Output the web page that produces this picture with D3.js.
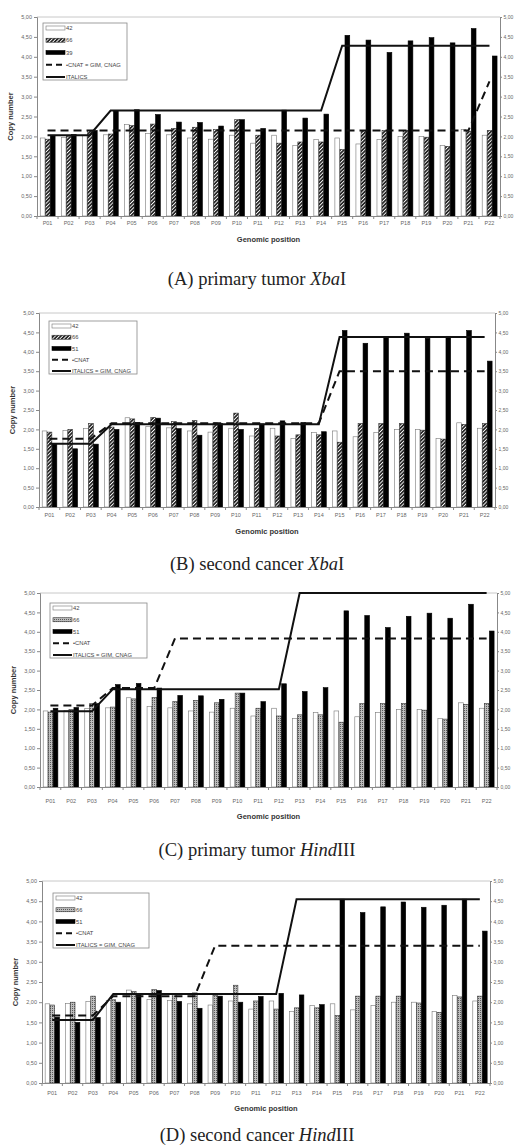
<!DOCTYPE html>
<html><head><meta charset="utf-8">
<script src="https://cdn.jsdelivr.net/npm/d3@7/dist/d3.min.js"></script>
<style>body{margin:0;background:#fff}svg{display:block}</style>
</head><body>
<script>
const categories = ["P01","P02","P03","P04","P05","P06","P07","P08","P09","P10","P11","P12","P13","P14","P15","P16","P17","P18","P19","P20","P21","P22"];
const yTicks = [0,0.5,1,1.5,2,2.5,3,3.5,4,4.5,5];

// series (white "42", patterned "66", black)
const white42 = [1.96,1.97,2.02,2.04,2.30,2.07,2.04,1.96,1.93,2.03,1.83,2.03,1.77,1.92,1.96,1.81,1.92,2.00,2.00,1.77,2.17,2.03];
const pat66   = [1.93,2.00,2.15,2.06,2.27,2.31,2.20,2.23,2.17,2.42,2.03,1.83,1.86,1.86,1.67,2.15,2.15,2.15,1.98,1.75,2.13,2.15];
const blackPrimary = [2.03,2.05,2.15,2.64,2.67,2.55,2.36,2.35,2.26,2.42,2.20,2.66,2.46,2.56,4.54,4.42,4.11,4.40,4.48,4.35,4.71,4.02];
const blackSecond  = [1.63,1.50,1.62,2.00,2.18,2.29,2.02,1.85,2.15,2.00,2.14,2.22,2.18,1.94,4.55,4.22,4.36,4.48,4.35,4.40,4.55,3.76];

// step lines
const solidA  = [2.03,2.03,2.03,2.65,2.65,2.65,2.65,2.65,2.65,2.65,2.65,2.65,2.65,2.65,4.28,4.28,4.28,4.28,4.28,4.28,4.28,4.28];
const dashedA = [2.15,2.15,2.15,2.15,2.15,2.15,2.15,2.15,2.15,2.15,2.15,2.15,2.15,2.15,2.15,2.15,2.15,2.15,2.15,2.15,2.15,3.38];
const solidB  = [1.63,1.63,1.63,2.13,2.13,2.13,2.13,2.13,2.13,2.13,2.13,2.13,2.13,2.13,4.38,4.38,4.38,4.38,4.38,4.38,4.38,4.38];
const dashedB = [1.76,1.76,1.76,2.16,2.16,2.16,2.16,2.16,2.16,2.16,2.16,2.16,2.16,2.16,3.50,3.50,3.50,3.50,3.50,3.50,3.50,3.50];
const solidC  = [1.95,1.95,1.95,2.52,2.52,2.52,2.52,2.52,2.52,2.52,2.52,2.52,5.00,5.00,5.00,5.00,5.00,5.00,5.00,5.00,5.00,5.00];
const dashedC = [2.10,2.10,2.10,2.55,2.55,2.55,3.83,3.83,3.83,3.83,3.83,3.83,3.83,3.83,3.83,3.83,3.83,3.83,3.83,3.83,3.83,3.83];
const solidD  = [1.56,1.56,1.56,2.20,2.20,2.20,2.20,2.20,2.20,2.20,2.20,2.20,4.55,4.55,4.55,4.55,4.55,4.55,4.55,4.55,4.55,4.55];
const dashedD = [1.67,1.67,1.67,2.15,2.15,2.15,2.15,2.15,3.40,3.40,3.40,3.40,3.40,3.40,3.40,3.40,3.40,3.40,3.40,3.40,3.40,3.40];

const legendA = ["42","66","39","•CNAT = GIM, CNAG","ITALICS"];
const legendB = ["42","66","51","•CNAT","ITALICS = GIM, CNAG"];
const legendC = ["42","66","51","•CNAT","ITALICS = GIM, CNAG"];
const legendD = ["42","66","51","•CNAT","ITALICS = GIM, CNAG"];

const captions = [
  ["(A) primary tumor ", "Xba", "I"],
  ["(B) second cancer ", "Xba", "I"],
  ["(C) primary tumor ", "Hind", "III"],
  ["(D) second cancer ", "Hind", "III"]
];

const svg = d3.select("body").append("svg").attr("width",514).attr("height",1148);
const defs = svg.append("defs");
const hp = defs.append("pattern").attr("id","hatch").attr("patternUnits","userSpaceOnUse")
  .attr("width",2.6).attr("height",2.6).attr("patternTransform","rotate(45)");
hp.append("rect").attr("width",2.6).attr("height",2.6).attr("fill","#fff");
hp.append("rect").attr("width",1.7).attr("height",2.6).attr("fill","#222");
const dp = defs.append("pattern").attr("id","dots").attr("patternUnits","userSpaceOnUse")
  .attr("width",2).attr("height",2);
dp.append("rect").attr("width",2).attr("height",2).attr("fill","#bdbdbd");
dp.append("rect").attr("width",1).attr("height",1).attr("fill","#5a5a5a");

const panels = [
  {box:{l:37,r:500,t:17,b:216}, s:[white42,pat66,blackPrimary], solid:solidA, dashed:dashedA, legend:legendA, pat:"hatch",
   leg:{x:43,y:23,w:84,h:57}, xlab:224, xtitle:239, cap:285},
  {box:{l:39,r:495,t:313,b:507}, s:[white42,pat66,blackSecond], solid:solidB, dashed:dashedB, legend:legendB, pat:"hatch",
   leg:{x:49,y:321,w:88,h:53}, xlab:516, xtitle:531, cap:570},
  {box:{l:40,r:497,t:593,b:787}, s:[white42,pat66,blackPrimary], solid:solidC, dashed:dashedC, legend:legendC, pat:"dots",
   leg:{x:50,y:603,w:97,h:55}, xlab:802, xtitle:816, cap:856},
  {box:{l:42,r:490,t:881,b:1083}, s:[white42,pat66,blackSecond], solid:solidD, dashed:dashedD, legend:legendD, pat:"dots",
   leg:{x:53,y:893,w:96,h:55}, xlab:1094, xtitle:1108, cap:1141}
];

const fmt = d => d3.format(".2f")(d).replace(".",",");

panels.forEach((p,pi) => {
  const {l,r,t,b} = p.box;
  const g = svg.append("g");
  const x = d3.scaleBand().domain(categories).range([l,r]);
  const x1 = d3.scaleBand().domain([0,1,2]).range([x.bandwidth()*0.14, x.bandwidth()*0.86]);
  const y = d3.scaleLinear().domain([0,5]).range([b,t]);

  // top border
  g.append("line").attr("x1",l).attr("x2",r).attr("y1",t).attr("y2",t).attr("stroke","#c8c8c8").attr("stroke-width",1);

  const fills = ["#fff", `url(#${p.pat})`, "#000"];
  const strokes = ["#777", "#333", "#000"];
  p.s.forEach((vals,si) => {
    g.append("g").selectAll("rect").data(vals).join("rect")
      .attr("x",(d,i)=>x(categories[i])+x1(si)+0.3)
      .attr("width",x1.bandwidth()-0.3)
      .attr("y",d=>y(d))
      .attr("height",d=>y(0)-y(d))
      .attr("fill",fills[si]).attr("stroke",strokes[si]).attr("stroke-width",0.6);
  });

  const line = d3.line().x((d,i)=>x(categories[i])+x.bandwidth()/2).y(d=>y(d));
  g.append("path").datum(p.dashed).attr("d",line).attr("fill","none").attr("stroke","#111")
    .attr("stroke-width",2).attr("stroke-dasharray","8,5");
  g.append("path").datum(p.solid).attr("d",line).attr("fill","none").attr("stroke","#111")
    .attr("stroke-width",2);

  // axes
  const la = g.append("g").attr("transform",`translate(${l},0)`)
    .call(d3.axisLeft(y).tickValues(yTicks).tickFormat(fmt).tickSize(3).tickPadding(2));
  const ra = g.append("g").attr("transform",`translate(${r},0)`)
    .call(d3.axisRight(y).tickValues(yTicks).tickFormat(fmt).tickSize(2).tickPadding(1.5));
  const ba = g.append("g").attr("transform",`translate(0,${b})`)
    .call(d3.axisBottom(x).tickSize(0).tickPadding(p.xlab-b-3));
  [la,ra,ba].forEach(a => {
    a.selectAll("path.domain").attr("stroke","#888").attr("stroke-width",1);
    a.selectAll(".tick line").attr("stroke","#888");
    a.selectAll("text").attr("fill","#666").style("font-family","Liberation Sans, Arial, sans-serif").style("font-size","5.5px");
  });
  ra.selectAll("text").style("font-size","5px");
  // category boundary ticks
  g.append("g").selectAll("line").data(categories.concat(["end"])).join("line")
    .attr("x1",(d,i)=> i<categories.length ? x(d) : r).attr("x2",(d,i)=> i<categories.length ? x(d) : r)
    .attr("y1",b).attr("y2",b+3).attr("stroke","#888");

  // titles
  g.append("text").attr("transform",`translate(${l-24},${(t+b)/2}) rotate(-90)`)
    .attr("text-anchor","middle").style("font-family","Liberation Sans, Arial, sans-serif")
    .style("font-size","7.5px").style("font-weight","bold").attr("fill","#333").text("Copy number");
  g.append("text").attr("x",(l+r)/2).attr("y",p.xtitle+3).attr("text-anchor","middle")
    .style("font-family","Liberation Sans, Arial, sans-serif").style("font-size","7.5px")
    .style("font-weight","bold").attr("fill","#333").text("Genomic position");

  // legend
  const lg = g.append("g").attr("transform",`translate(${p.leg.x},${p.leg.y})`);
  lg.append("rect").attr("width",p.leg.w).attr("height",p.leg.h).attr("fill","#fff").attr("stroke","#888").attr("stroke-width",0.8);
  const rowH = (p.leg.h-8)/4;
  p.legend.forEach((txt,k) => {
    const cy = 5 + k*rowH;
    const sw = lg.append("g");
    if (k<3) {
      sw.append("rect").attr("x",3).attr("y",cy-2).attr("width",19).attr("height",4)
        .attr("fill",fills[k]).attr("stroke",strokes[k]).attr("stroke-width",0.6);
    } else if (k===3) {
      sw.append("line").attr("x1",3).attr("x2",22).attr("y1",cy).attr("y2",cy).attr("stroke","#111")
        .attr("stroke-width",2).attr("stroke-dasharray","6,4");
    } else {
      sw.append("line").attr("x1",3).attr("x2",22).attr("y1",cy).attr("y2",cy).attr("stroke","#111").attr("stroke-width",2);
    }
    lg.append("text").attr("x",23).attr("y",cy+2).style("font-family","Liberation Sans, Arial, sans-serif")
      .style("font-size","5.8px").attr("fill","#444").text(txt);
  });

  // caption
  const c = captions[pi];
  const ct = svg.append("text").attr("x",257).attr("y",p.cap).attr("text-anchor","middle")
    .style("font-family","Liberation Serif, Times New Roman, serif").style("font-size","18.5px").attr("fill","#222");
  ct.append("tspan").text(c[0]);
  ct.append("tspan").style("font-style","italic").text(c[1]);
  ct.append("tspan").text(c[2]);
});
</script>
</body></html>
